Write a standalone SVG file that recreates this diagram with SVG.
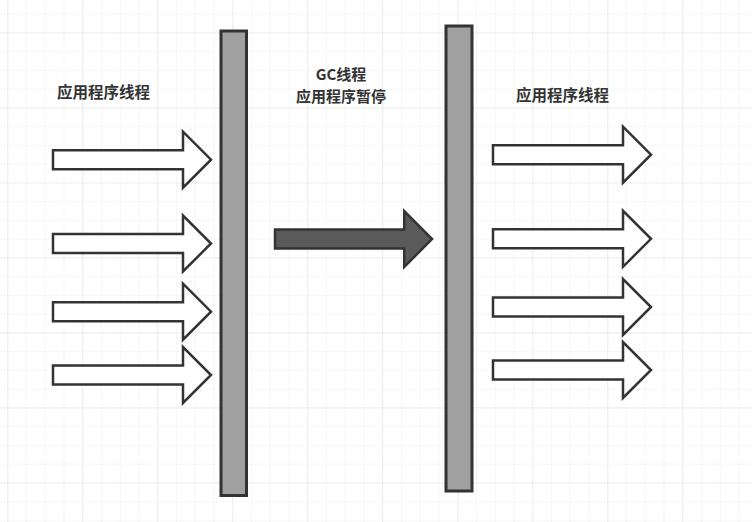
<svg xmlns="http://www.w3.org/2000/svg" xmlns:xlink="http://www.w3.org/1999/xlink" width="752" height="522" viewBox="0 0 752 522">
  <defs>
    <pattern id="minor" x="7.3" y="13.6" width="18.75" height="18.75" patternUnits="userSpaceOnUse">
      <path d="M0,0 V18.75 M0,0 H18.75" fill="none" stroke="#f0f0f0" stroke-width="1"/>
    </pattern>
    <pattern id="major" x="7.3" y="32.4" width="75" height="75" patternUnits="userSpaceOnUse">
      <path d="M0,0 V75 M0,0 H75" fill="none" stroke="#e4e4e4" stroke-width="1"/>
    </pattern>
    <path id="blockArrow" d="M0,-9.5 H130 V-28 L158,0 L130,28 V9.5 H0 Z"/>
    <style>
      .bar { fill: #a0a0a0; stroke: #333333; stroke-width: 3; }
      .arrow { fill: #ffffff; stroke: #333333; stroke-width: 2.5; stroke-linejoin: miter; }
      .gcarrow { fill: #5a5a5a; stroke: #333333; stroke-width: 2.5; }
      .label { font-family: "Noto Sans CJK SC", "Noto Sans", sans-serif; font-size: 15.5px; font-weight: bold; fill: #333333; text-anchor: middle; }
      .gclabel { font-size: 15px; }
    </style>
  </defs>
  <rect width="752" height="522" fill="#ffffff"/>
  <rect width="752" height="522" fill="url(#minor)"/>
  <rect width="752" height="522" fill="url(#major)"/>

  <g id="bar-left"><rect class="bar" x="221" y="31" width="25.5" height="464.5"/></g>
  <g id="bar-right"><rect class="bar" x="446" y="26" width="26" height="465"/></g>

  <g id="label-left"><text class="label" x="103.5" y="98">应用程序线程</text></g>
  <g id="label-gc"><text class="label gclabel" x="341" y="79.5">GC线程</text><text class="label gclabel" x="341" y="101.5">应用程序暂停</text></g>
  <g id="label-right"><text class="label" x="562.5" y="101">应用程序线程</text></g>

  <g id="connectors">
    <g id="arrow-l1"><use xlink:href="#blockArrow" class="arrow" transform="translate(53,159.7)"/></g>
    <g id="arrow-l2"><use xlink:href="#blockArrow" class="arrow" transform="translate(53,243.5)"/></g>
    <g id="arrow-l3"><use xlink:href="#blockArrow" class="arrow" transform="translate(53,311.7)"/></g>
    <g id="arrow-l4"><use xlink:href="#blockArrow" class="arrow" transform="translate(53,375)"/></g>
    <g id="arrow-gc"><use xlink:href="#blockArrow" class="gcarrow" transform="translate(275,239) scale(0.994,1)"/></g>
    <g id="arrow-r1"><use xlink:href="#blockArrow" class="arrow" transform="translate(493,154.7)"/></g>
    <g id="arrow-r2"><use xlink:href="#blockArrow" class="arrow" transform="translate(493,238.8)"/></g>
    <g id="arrow-r3"><use xlink:href="#blockArrow" class="arrow" transform="translate(493,307)"/></g>
    <g id="arrow-r4"><use xlink:href="#blockArrow" class="arrow" transform="translate(493,370)"/></g>
  </g>
</svg>
